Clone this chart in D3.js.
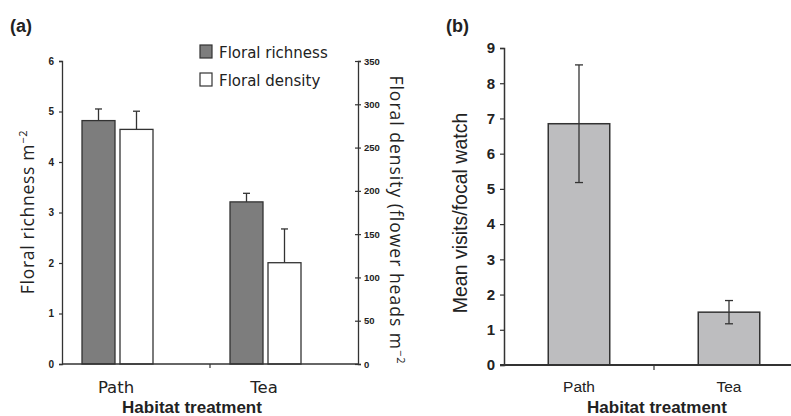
<!DOCTYPE html>
<html>
<head>
<meta charset="utf-8">
<script src="https://cdn.jsdelivr.net/npm/d3@7"></script>
<style>
  body { margin: 0; background: #fff; }
  svg { display: block; }
  text { fill: #222; }
</style>
</head>
<body>
<svg id="chart"></svg>
<script>
// panel (a)
const habitats = ['Path', 'Tea'];
const richness = [4.82, 3.21];
const richnessErr = [0.23, 0.17];
const density = [271, 117];
const densityErr = [21, 39];
const richTicks = [0, 1, 2, 3, 4, 5, 6];
const densTicks = [0, 50, 100, 150, 200, 250, 300, 350];
// panel (b)
const visits = [6.85, 1.5];
const visitsErr = [1.67, 0.33];
const visitTicks = [0, 1, 2, 3, 4, 5, 6, 7, 8, 9];

const W = 791, H = 416;
const svg = d3.select('#chart').attr('width', W).attr('height', H);

const DARK = '#7d7d7d', LIGHT = '#bdbdbf', LINE = '#333';

// ---------- panel (a) ----------
const xa = d3.scaleBand().domain(habitats).range([62, 358]);
const yL = d3.scaleLinear().domain([0, 6]).range([364, 61]);
const yR = d3.scaleLinear().domain([0, 350]).range([364, 61]);

const ga = svg.append('g');

// bars (Excel-style offset inside each band)
const barW = 33;
const richX = d => xa(d) + 20;
const densX = d => xa(d) + 58;

ga.selectAll('rect.rich').data(habitats).join('rect')
  .attr('x', richX).attr('width', barW)
  .attr('y', (d, i) => yL(richness[i]))
  .attr('height', (d, i) => yL(0) - yL(richness[i]))
  .attr('fill', DARK).attr('stroke', LINE).attr('stroke-width', 1.3);

ga.selectAll('rect.dens').data(habitats).join('rect')
  .attr('x', densX).attr('width', barW)
  .attr('y', (d, i) => yR(density[i]))
  .attr('height', (d, i) => yR(0) - yR(density[i]))
  .attr('fill', '#fff').attr('stroke', LINE).attr('stroke-width', 1.3);

// upward error bars
function upErr(g, xs, scale, vals, errs) {
  habitats.forEach((h, i) => {
    const cx = xs(h) + barW / 2;
    const y0 = scale(vals[i]), y1 = scale(vals[i] + errs[i]);
    g.append('line').attr('x1', cx).attr('x2', cx).attr('y1', y0).attr('y2', y1)
      .attr('stroke', LINE).attr('stroke-width', 1.3);
    g.append('line').attr('x1', cx - 3.5).attr('x2', cx + 3.5).attr('y1', y1).attr('y2', y1)
      .attr('stroke', LINE).attr('stroke-width', 1.3);
  });
}
upErr(ga, richX, yL, richness, richnessErr);
upErr(ga, densX, yR, density, densityErr);

// axes
const axL = ga.append('g').attr('transform', 'translate(62,0)')
  .call(d3.axisLeft(yL).tickValues(richTicks).tickSize(3).tickFormat(d3.format('d')));
const axR = ga.append('g').attr('transform', 'translate(358,0)')
  .call(d3.axisRight(yR).tickValues(densTicks).tickSize(3).tickFormat(d3.format('d')));
[axL, axR].forEach(a => {
  a.select('.domain').attr('stroke', LINE).attr('stroke-width', 1.3);
  a.selectAll('.tick line').attr('stroke', LINE).attr('stroke-width', 1.2);
  a.selectAll('.tick text').attr('font-family', 'Liberation Sans').attr('font-size', 10)
    .attr('font-weight', 'bold').attr('fill', '#555');
});
axL.selectAll('.tick text').attr('x', -8);
axR.selectAll('.tick text').attr('x', 6).attr('font-size', 9.5);
// secondary ticks cross the axis
axR.selectAll('.tick line').attr('x1', -3);

const axXa = ga.append('g').attr('transform', 'translate(0,364)');
axXa.append('line').attr('x1', 62).attr('x2', 358).attr('stroke', LINE).attr('stroke-width', 1.5);
axXa.append('line').attr('x1', xa('Tea')).attr('x2', xa('Tea')).attr('y1', 0).attr('y2', 4)
  .attr('stroke', LINE).attr('stroke-width', 1.2);
axXa.selectAll('text.cat').data(habitats).join('text')
  .attr('x', d => xa(d) + 54).attr('y', 29)
  .attr('text-anchor', 'middle')
  .attr('font-family', 'DejaVu Sans').attr('font-size', 16.5).attr('fill', '#333')
  .text(d => d);

ga.append('text').attr('x', 192).attr('y', 413)
  .attr('text-anchor', 'middle').attr('font-family', 'Liberation Sans')
  .attr('font-weight', 'bold').attr('font-size', 17).text('Habitat treatment');

ga.append('text').attr('transform', 'translate(34,212) rotate(-90)')
  .attr('text-anchor', 'middle').attr('font-family', 'Open Sans').attr('font-size', 17.5)
  .attr('letter-spacing', 0.7).attr('fill', '#333')
  .html('Floral richness m<tspan dy="-7" font-size="11">−2</tspan>');

ga.append('text').attr('transform', 'translate(390,220) rotate(90)')
  .attr('text-anchor', 'middle').attr('font-family', 'Open Sans').attr('font-size', 17.5)
  .attr('letter-spacing', 1).attr('fill', '#333')
  .html('Floral density (flower heads m<tspan dy="-7" font-size="11">−2</tspan>');

ga.append('text').attr('x', 10).attr('y', 32)
  .attr('font-family', 'Liberation Sans').attr('font-weight', 'bold').attr('font-size', 18)
  .text('(a)');

// legend
const legend = [['Floral richness', DARK], ['Floral density', '#fff']];
const lg = ga.append('g').attr('transform', 'translate(200,45)');
lg.selectAll('rect').data(legend).join('rect')
  .attr('x', 0).attr('y', (d, i) => i * 28).attr('width', 12).attr('height', 13)
  .attr('fill', d => d[1]).attr('stroke', LINE).attr('stroke-width', 1.2);
lg.selectAll('text').data(legend).join('text')
  .attr('x', 19).attr('y', (d, i) => i * 28 + 13)
  .attr('font-family', 'DejaVu Sans').attr('font-size', 15).attr('fill', '#333')
  .text(d => d[0]);

// ---------- panel (b) ----------
const xb = d3.scaleBand().domain(habitats).range([504, 804]).paddingInner(0.59).paddingOuter(0.295);
const yb = d3.scaleLinear().domain([0, 9]).range([365, 48]);
const gb = svg.append('g');

gb.selectAll('rect').data(habitats).join('rect')
  .attr('x', d => xb(d)).attr('width', xb.bandwidth())
  .attr('y', (d, i) => yb(visits[i]))
  .attr('height', (d, i) => yb(0) - yb(visits[i]))
  .attr('fill', LIGHT).attr('stroke', LINE).attr('stroke-width', 1.5);

habitats.forEach((h, i) => {
  const cx = xb(h) + xb.bandwidth() / 2;
  const y1 = yb(visits[i] + visitsErr[i]), y2 = yb(visits[i] - visitsErr[i]);
  gb.append('line').attr('x1', cx).attr('x2', cx).attr('y1', y1).attr('y2', y2)
    .attr('stroke', LINE).attr('stroke-width', 1.3);
  [y1, y2].forEach(y => gb.append('line').attr('x1', cx - 4).attr('x2', cx + 4)
    .attr('y1', y).attr('y2', y).attr('stroke', LINE).attr('stroke-width', 1.3));
});

const axB = gb.append('g').attr('transform', 'translate(504,0)')
  .call(d3.axisLeft(yb).tickValues(visitTicks).tickSize(4).tickFormat(d3.format('d')));
axB.select('.domain').attr('stroke', LINE).attr('stroke-width', 1.5);
axB.selectAll('.tick line').attr('stroke', LINE).attr('stroke-width', 1.2);
axB.selectAll('.tick text').attr('x', -9).attr('font-family', 'Liberation Sans')
  .attr('font-size', 15).attr('font-weight', 'bold').attr('fill', '#333');

const axXb = gb.append('g').attr('transform', 'translate(0,365)');
axXb.append('line').attr('x1', 500).attr('x2', 791).attr('stroke', LINE).attr('stroke-width', 1.8);
axXb.append('line').attr('x1', xb.step() + 504).attr('x2', xb.step() + 504).attr('y1', 0).attr('y2', 5)
  .attr('stroke', LINE).attr('stroke-width', 1.2);
axXb.selectAll('text.cat').data(habitats).join('text')
  .attr('x', d => xb(d) + xb.bandwidth() / 2).attr('y', 27)
  .attr('text-anchor', 'middle').attr('font-family', 'Liberation Sans')
  .attr('font-size', 15.5).attr('fill', '#333').text(d => d);

gb.append('text').attr('x', 657).attr('y', 413)
  .attr('text-anchor', 'middle').attr('font-family', 'Liberation Sans')
  .attr('font-weight', 'bold').attr('font-size', 17).text('Habitat treatment');

gb.append('text').attr('transform', 'translate(467,213) rotate(-90)')
  .attr('text-anchor', 'middle').attr('font-family', 'Liberation Sans').attr('font-size', 19.5)
  .attr('fill', '#333').text('Mean visits/focal watch');

gb.append('text').attr('x', 446).attr('y', 32)
  .attr('font-family', 'Liberation Sans').attr('font-weight', 'bold').attr('font-size', 18)
  .text('(b)');
</script>
</body>
</html>
